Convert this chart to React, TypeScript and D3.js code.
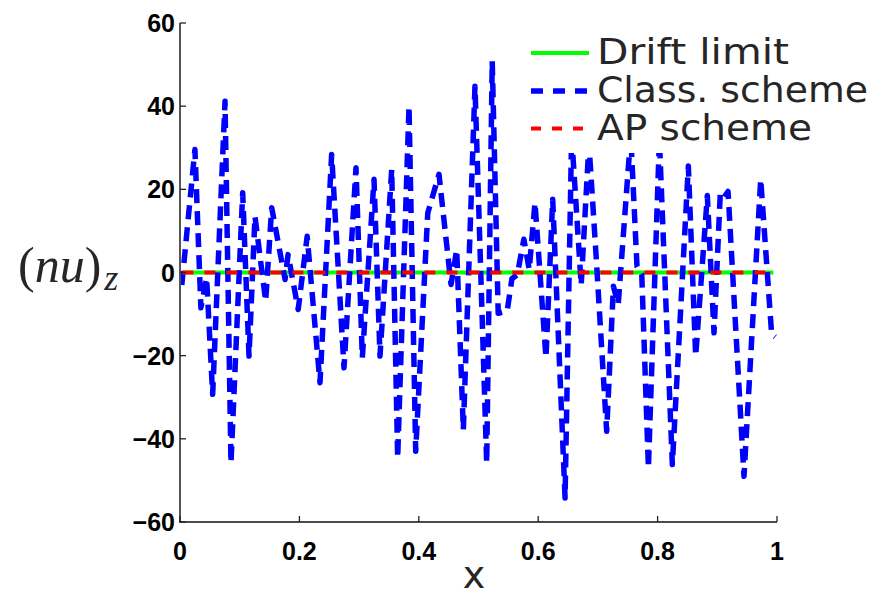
import React from "react";
import * as d3 from "d3";

// Classical scheme (blue dashed) vertices
const classX = [
  0.003, 0.025, 0.035, 0.0446, 0.0547, 0.0754, 0.0854, 0.105, 0.1156, 0.1256,
  0.1435, 0.1536, 0.176, 0.181, 0.198, 0.213, 0.2345, 0.254, 0.2747, 0.2948,
  0.3054, 0.325, 0.335, 0.3546, 0.3646, 0.3836, 0.3948, 0.415, 0.4338, 0.454,
  0.4635, 0.4746, 0.4941, 0.5137, 0.523, 0.533, 0.548, 0.556, 0.565, 0.576,
  0.585, 0.5946, 0.613, 0.6243, 0.645, 0.656, 0.672, 0.685, 0.697, 0.7147,
  0.726, 0.734, 0.755, 0.7655, 0.7735, 0.7846, 0.803, 0.8247, 0.8515, 0.8638,
  0.8833, 0.8945, 0.905, 0.911, 0.918, 0.9447, 0.9727, 0.991, 0.997,
];
const classY = [
  -3, 29.6, -8.5, -1.3, -29.3, 41.2, -45.8, 19.2, -20.1, 13.5,
  -6.9, 15.6, -1.7, 4.3, -8.9, 8.7, -26.5, 28.4, -22.9, 25.2,
  -20.5, 22.4, -20.1, 24.8, -44.6, 40, -43, 14.3, 23.6, -2.9,
  5.5, -37.8, 44.8, -45.8, 50.8, -9.8, -9.3, -1.5, -0.5, 8,
  0.7, 16.8, -20.5, 17.6, -54.2, 33, -3, 31, 4, -38.2,
  -3.3, -7.7, 33, 1.5, -0.5, -47, 32, -46.2, 25.6, -20.1,
  18.5, -14.5, 19, 18, 19.5, -49, 22.4, -14.8, -15.5,
];

// Drift limit and AP scheme (both zero)
const driftX = [0.004, 0.994];
const driftY = [0, 0];
const apX = [0.004, 0.994];
const apY = [0, 0];

const xTicks = [0, 0.2, 0.4, 0.6, 0.8, 1];
const xTickLabels = ["0", "0.2", "0.4", "0.6", "0.8", "1"];
const yTicks = [-60, -40, -20, 0, 20, 40, 60];
const yTickLabels = ["\u221260", "\u221240", "\u221220", "0", "20", "40", "60"];

const legendLabels = ["Drift limit", "Class. scheme", "AP scheme"];
const legendWidths = [192, 271, 215];

export default function App() {
  const W = 881;
  const H = 596;
  const x = d3.scaleLinear().domain([0, 1]).range([180, 777]);
  const y = d3.scaleLinear().domain([-60, 60]).range([522, 23]);

  const line = d3
    .line<[number, number]>()
    .x((d) => x(d[0]))
    .y((d) => y(d[1]));

  const classPts = classX.map((v, i) => [v, classY[i]] as [number, number]);
  const driftPts = driftX.map((v, i) => [v, driftY[i]] as [number, number]);
  const apPts = apX.map((v, i) => [v, apY[i]] as [number, number]);

  const tickFont = "'Liberation Sans', Arial, sans-serif";
  const legendFont = "'DejaVu Sans', sans-serif";

  const legendStyles = [
    { color: "#00ff00", dash: "none", w: 4 },
    { color: "#0000ff", dash: "12,10", w: 5.5 },
    { color: "#ff0000", dash: "10,11", w: 4 },
  ];
  const legendLineY = [53, 91, 128.5];
  const legendTextY = [64, 102, 140];

  return (
    <svg
      width={W}
      height={H}
      style={{ position: "absolute", left: 0, top: 0, background: "#fff" }}
    >
      <rect x={0} y={0} width={W} height={H} fill="#fff" />

      {/* data lines */}
      <path
        d={line(driftPts) || ""}
        fill="none"
        stroke="#00ff00"
        strokeWidth={4}
      />
      <path
        d={line(classPts) || ""}
        fill="none"
        stroke="#0000ff"
        strokeWidth={5.5}
        strokeDasharray="14,8"
        strokeLinejoin="round"
      />
      <path
        d={line(apPts) || ""}
        fill="none"
        stroke="#ff0000"
        strokeWidth={4}
        strokeDasharray="11,11"
      />

      {/* axes */}
      <line x1={180} y1={y(60)} x2={180} y2={522} stroke="#555" strokeWidth={2} />
      <line x1={179} y1={522} x2={x(1)} y2={522} stroke="#111" strokeWidth={1.6} />
      {yTicks.map((t) => (
        <line key={"yt" + t} x1={180} x2={186} y1={y(t)} y2={y(t)} stroke="#222" strokeWidth={1.3} />
      ))}
      {xTicks.map((t) => (
        <line key={"xt" + t} x1={x(t)} x2={x(t)} y1={522} y2={516} stroke="#222" strokeWidth={1.3} />
      ))}
      {yTicks.map((t, i) => (
        <text
          key={"yl" + t}
          x={175}
          y={y(t) + 9}
          textAnchor="end"
          fontFamily={tickFont}
          fontWeight="bold"
          fontSize={25}
          fill="#000"
        >
          {yTickLabels[i]}
        </text>
      ))}
      {xTicks.map((t, i) => (
        <text
          key={"xl" + t}
          x={x(t)}
          y={560}
          textAnchor="middle"
          fontFamily={tickFont}
          fontWeight="bold"
          fontSize={25}
          fill="#000"
        >
          {xTickLabels[i]}
        </text>
      ))}

      {/* axis labels */}
      <text
        x={474}
        y={588}
        textAnchor="middle"
        fontFamily={legendFont}
        fontSize={38}
        fill="#262626"
      >
        x
      </text>
      <text x={18} y={282} fontFamily="'Liberation Serif', 'Times New Roman', serif" fontSize={50} fill="#262626">
        <tspan>(</tspan>
        <tspan fontStyle="italic">nu</tspan>
        <tspan>)</tspan>
        <tspan fontStyle="italic" fontSize={36} dx={3} dy={8}>
          z
        </tspan>
      </text>

      {/* legend */}
      <rect x={525} y={27} width={352} height={126} fill="#fff" />
      {legendLabels.map((lab, i) => (
        <g key={lab}>
          <line
            x1={531}
            x2={589}
            y1={legendLineY[i]}
            y2={legendLineY[i]}
            stroke={legendStyles[i].color}
            strokeWidth={legendStyles[i].w}
            strokeDasharray={legendStyles[i].dash}
          />
          <text
            x={597}
            y={legendTextY[i]}
            fontFamily={legendFont}
            fontSize={35}
            fill="#262626"
            textLength={legendWidths[i]}
            lengthAdjust="spacingAndGlyphs"
          >
            {lab}
          </text>
        </g>
      ))}
    </svg>
  );
}
